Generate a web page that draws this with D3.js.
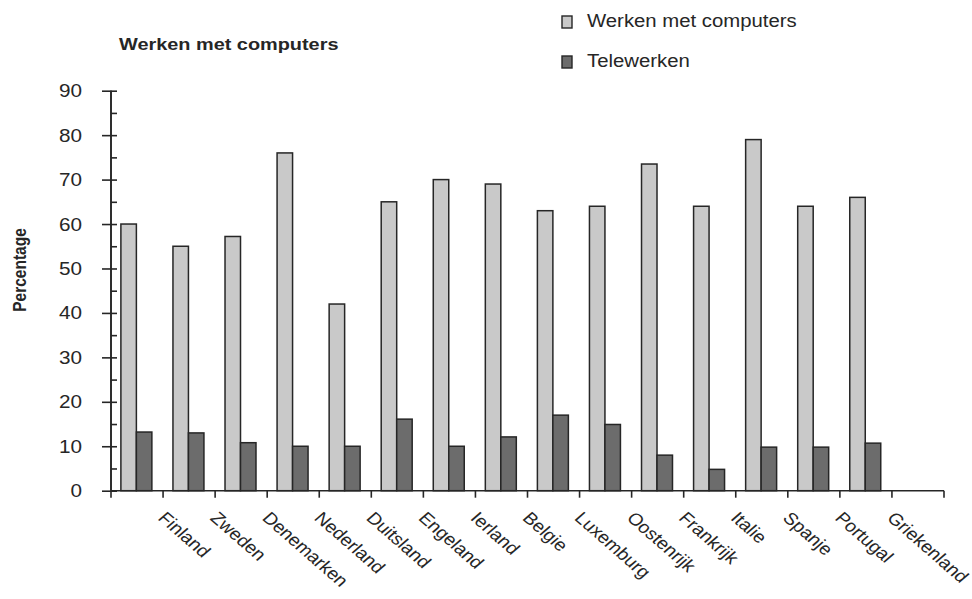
<!DOCTYPE html>
<html>
<head>
<meta charset="utf-8">
<script src="https://cdn.jsdelivr.net/npm/d3@7/dist/d3.min.js"></script>
<style>
  html, body { margin: 0; padding: 0; background: #fff; }
  svg { display: block; font-family: Arial, "Liberation Sans", sans-serif; }
</style>
</head>
<body>
<svg id="chart" width="972" height="599"></svg>
<script>
// Share of workers using computers and teleworking, per country (percent)
const categories = ["Finland", "Zweden", "Denemarken", "Nederland", "Duitsland", "Engeland",
  "Ierland", "Belgie", "Luxemburg", "Oostenrijk", "Frankrijk", "Italie", "Spanje",
  "Portugal", "Griekenland", ""];
const computers = [60, 55, 57.2, 76, 42, 65, 70, 69, 63, 64, 73.5, 64, 79, 64, 66, null];
const telewerken = [13.2, 13, 10.8, 10, 10, 16.1, 10, 12.1, 17, 14.9, 8, 4.8, 9.8, 9.8, 10.7, null];
const seriesNames = ["Werken met computers", "Telewerken"];
const yMajorTicks = [0, 10, 20, 30, 40, 50, 60, 70, 80, 90];
const yMinorTicks = [5, 15, 25, 35, 45, 55, 65, 75, 85];

const chartTitle = "Werken met computers";
const yTitle = "Percentage";

const colors = { "Werken met computers": "#c9c9c9", "Telewerken": "#6c6c6c" };
const ink = "#262626";
const sx = 1.15; // horizontal text stretch

const svg = d3.select("#chart");

const plot = { left: 111, right: 944, top: 90.7, bottom: 490.7 };

const x0 = d3.scaleBand().domain(categories).range([plot.left, plot.right]).padding(0);
const bw = x0.bandwidth();
const x1 = d3.scaleBand().domain(seriesNames).range([bw * 0.19, bw * 0.785]).padding(0);
const y = d3.scaleLinear().domain([0, 90]).range([plot.bottom, plot.top]);

const rows = categories.map((c, i) => ({
  cat: c,
  values: [
    { key: seriesNames[0], v: computers[i] },
    { key: seriesNames[1], v: telewerken[i] }
  ]
}));

// bars
const groups = svg.append("g").selectAll("g")
  .data(rows).join("g")
  .attr("transform", d => `translate(${x0(d.cat)},0)`);

groups.selectAll("rect")
  .data(d => d.values.filter(e => e.v != null))
  .join("rect")
  .attr("x", d => x1(d.key))
  .attr("y", d => y(d.v))
  .attr("width", x1.bandwidth())
  .attr("height", d => y(0) - y(d.v))
  .attr("fill", d => colors[d.key])
  .attr("stroke", ink)
  .attr("stroke-width", 1.5);

// y axis: minor ticks to the inside, major ticks crossing the line
const yMinor = svg.append("g").attr("transform", `translate(${plot.left},0)`)
  .call(d3.axisLeft(y).tickValues(yMajorTicks.concat(yMinorTicks)).tickSize(-6).tickFormat(""));
const yMajor = svg.append("g").attr("transform", `translate(${plot.left},0)`)
  .call(d3.axisLeft(y).tickValues(yMajorTicks).tickSize(9).tickFormat(""));
[yMinor, yMajor].forEach(g => {
  g.selectAll("path, line").attr("stroke", ink).attr("stroke-width", 1.6);
  g.select(".domain").attr("d", `M0,${plot.top}V${plot.bottom}`);
});

svg.append("g").selectAll("text")
  .data(yMajorTicks).join("text")
  .attr("transform", d => `translate(82,${y(d) + 6.5}) scale(${sx},1)`)
  .attr("text-anchor", "end")
  .attr("font-size", 18)
  .attr("fill", ink)
  .text(d => d);

// x axis with ticks at category boundaries
const boundaries = d3.range(categories.length + 1).map(i => plot.left + i * x0.step());
const xAxis = svg.append("g");
xAxis.append("line")
  .attr("x1", plot.left).attr("x2", plot.right)
  .attr("y1", plot.bottom).attr("y2", plot.bottom)
  .attr("stroke", ink).attr("stroke-width", 1.6);
xAxis.selectAll("line.tick")
  .data(boundaries).join("line")
  .attr("class", "tick")
  .attr("x1", d => d).attr("x2", d => d)
  .attr("y1", plot.bottom).attr("y2", plot.bottom + 7)
  .attr("stroke", ink).attr("stroke-width", 1.6);

// category labels, rotated, starting at the right edge of each band
svg.append("g").selectAll("text")
  .data(categories.filter(c => c !== "")).join("text")
  .attr("transform", d => `translate(${x0(d) + bw - 6},519) scale(${sx},1) rotate(45)`)
  .attr("font-size", 17)
  .attr("fill", ink)
  .text(d => d);

// titles
svg.append("text")
  .attr("transform", `translate(119,49.5) scale(${sx},1)`)
  .attr("font-size", 17.3)
  .attr("font-weight", "bold")
  .attr("fill", ink)
  .text(chartTitle);

svg.append("text")
  .attr("transform", `translate(25.5,270) scale(${sx},1) rotate(-90)`)
  .attr("text-anchor", "middle")
  .attr("font-size", 15.5)
  .attr("font-weight", "bold")
  .attr("fill", ink)
  .text(yTitle);

// legend
const legend = svg.append("g").selectAll("g")
  .data(seriesNames).join("g")
  .attr("transform", (d, i) => `translate(562,${16 + i * 40})`);
legend.append("rect")
  .attr("width", 10).attr("height", 12)
  .attr("fill", d => colors[d])
  .attr("stroke", ink).attr("stroke-width", 1.4);
legend.append("text")
  .attr("transform", `translate(25,11) scale(1.13,1)`)
  .attr("font-size", 18)
  .attr("fill", ink)
  .text(d => d);
</script>
</body>
</html>
